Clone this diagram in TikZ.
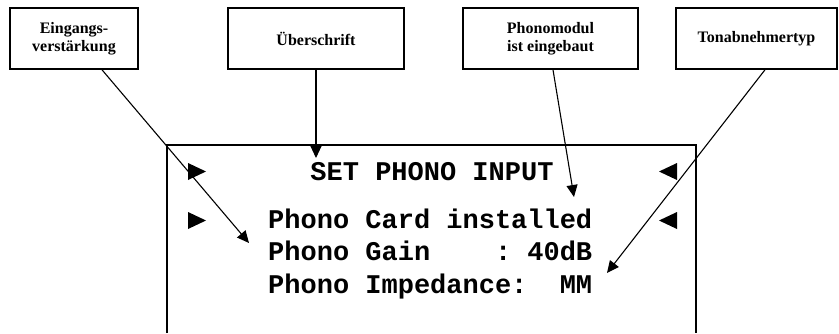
\documentclass[tikz,border=0pt]{standalone}
\usepackage{fontspec}
\setmainfont{Liberation Serif}
\newfontfamily\lcdfont{Liberation Mono}
\usetikzlibrary{arrows.meta,positioning}

\begin{document}
\begin{tikzpicture}[
    x=1pt, y=-1pt,
    labelbox/.style={draw=black, line width=1.6pt,
      minimum height=61pt, inner sep=0pt, align=center,
      font=\fontsize{16}{17.5}\selectfont\bfseries},
    lcd/.style={inner sep=0pt, font=\lcdfont\bfseries\fontsize{27}{27}\selectfont},
    frame/.style={line width=1.4pt},
    marker/.style={fill=black},
    arrow/.style={-{Triangle[length=12pt,width=11pt]}, line width=1.1pt}
  ]
  \useasboundingbox (0,0) rectangle (839,333);
  % labels above the display
  \node[labelbox, minimum width=128pt] (eingang) at (74,38.5) {Eingangs-\\verstärkung};
  \node[labelbox, minimum width=176pt] (ueber) at (316,38.5) {Überschrift};
  \node[labelbox, minimum width=175pt] (phono) at (550.5,38.5) {Phonomodul\\ist eingebaut};
  \node[labelbox, minimum width=161pt] (tonab) at (756.5,38.5) {Tonabnehmertyp};
  % display
  \draw[frame] (167,333) -- (167,145) -- (696,145) -- (696,333);
  \node[lcd, anchor=base] (title) at (432,180) {SET~PHONO~INPUT};
  \node[lcd, anchor=base west] (card) at (268,228) {Phono~Card~installed};
  \node[lcd, anchor=base west] (gain) at (268,260) {Phono~Gain~~~~:~40dB};
  \node[lcd, anchor=base west] (imped) at (268,293) {Phono~Impedance:~~MM};
  \fill[marker] (188,163) -- (206,171.5) -- (188,180) -- cycle;
  \fill[marker] (188,212) -- (206,220.5) -- (188,229) -- cycle;
  \fill[marker] (677,163) -- (659,171.5) -- (677,180) -- cycle;
  \fill[marker] (677,212) -- (659,220.5) -- (677,229) -- cycle;
  % arrow ends
  \coordinate (gaintip) at (249,243);
  \coordinate (titletip) at (316,158);
  \coordinate (cardtip) at (574,197);
  \coordinate (impedtip) at (607,273);
  \draw[arrow] ([xshift=28pt]eingang.south) -- (gaintip);
  \draw[arrow] (ueber.south) -- (titletip);
  \draw[arrow] ([xshift=2.5pt]phono.south) -- (cardtip);
  \draw[arrow] ([xshift=8.5pt]tonab.south) -- (impedtip);
\end{tikzpicture}
\end{document}
